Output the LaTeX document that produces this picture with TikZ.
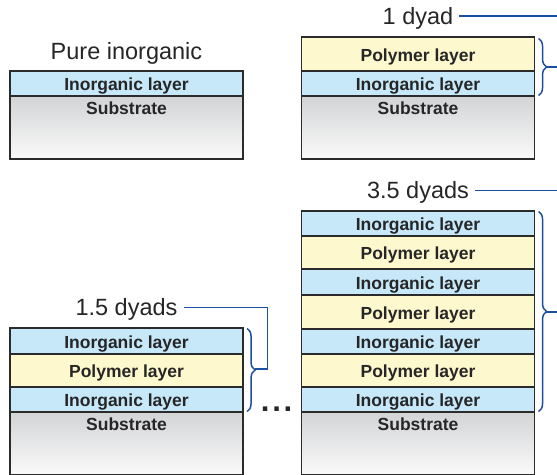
\documentclass[tikz,border=0pt]{standalone}
\usepackage{fontspec}
\setmainfont{Liberation Sans}
\usetikzlibrary{decorations.pathreplacing}
\definecolor{inorg}{HTML}{C6E8F8}
\definecolor{poly}{HTML}{FDF8CD}
\definecolor{edge}{HTML}{2B2B2B}
\definecolor{subtop}{HTML}{D3D4D6}
\definecolor{subbot}{HTML}{FAFAFA}
\definecolor{brblue}{HTML}{1C4FA0}
\definecolor{txt}{HTML}{262626}
\tikzset{
  layer/.style={draw=edge, line width=1.1pt, minimum width=233pt, inner sep=0pt,
    text=txt, font=\fontsize{17.5}{20}\selectfont\bfseries, text height=14.3pt, text depth=0pt},
  inolayer/.style={layer, fill=inorg, minimum height=#1},
  polylayer/.style={layer, fill=poly, minimum height=#1},
  sublayer/.style={draw=edge, line width=1.1pt, minimum width=233pt, minimum height=63pt,
    inner sep=0pt, top color=subtop, bottom color=subbot},
  subtext/.style={anchor=base, inner sep=0pt, text=txt, font=\fontsize{17.5}{20}\selectfont\bfseries},
  biglabel/.style={inner sep=0pt, text=txt, font=\fontsize{23.5}{26}\selectfont,
    text height=16.8pt, text depth=0pt},
  bracelink/.style={draw=brblue, line width=1.5pt},
  bracebrace/.style={draw=brblue, line width=1.5pt, decorate,
    decoration={brace, amplitude=8pt}},
}
\begin{document}
\begin{tikzpicture}[x=1pt, y=-1pt]
\useasboundingbox (0,0) rectangle (557,474);
\clip (0,0) rectangle (557,474);
\fill[white] (0,0) rectangle (557,474);

% ---------- Pure inorganic ----------
\node[biglabel] (lpure) at (126.5,50.8) {Pure inorganic};
\node[sublayer] (s1) at (126.5,127.5) {};
\node[subtext] (s1t) at ([yshift=-19pt]s1.north) {Substrate};
\node[inolayer=25pt] (a1) at (126.5,83.5) {Inorganic layer};

% ---------- 1 dyad ----------
\node[biglabel] (l1) at (418,15.8) {1 dyad};
\node[sublayer] (s2) at (418,127.5) {};
\node[subtext] (s2t) at ([yshift=-19pt]s2.north) {Substrate};
\node[inolayer=25pt] (b1) at (418,83.5) {Inorganic layer};
\node[polylayer=34pt] (b2) at (418,54) {Polymer layer};
\draw[bracebrace] ([xshift=3.5pt,yshift=-2pt]b2.north east) -- ([xshift=3.5pt,yshift=1pt]b1.south east);
\coordinate (t1) at (546,67);
\coordinate (e1a) at (557,67);
\coordinate (e1b) at (557,15.8);
\draw[bracelink] (t1) -- (e1a);
\draw[bracelink] ([xshift=6pt]l1.east) -- (e1b);

% ---------- 1.5 dyads ----------
\node[biglabel] (l2) at (126.5,307.3) {1.5 dyads};
\node[sublayer] (s3) at (126.5,443.5) {};
\node[subtext] (s3t) at ([yshift=-19pt]s3.north) {Substrate};
\node[inolayer=25pt] (c1) at (126.5,399.5) {Inorganic layer};
\node[polylayer=33pt] (c2) at (126.5,370.5) {Polymer layer};
\node[inolayer=26pt] (c3) at (126.5,341) {Inorganic layer};
\draw[bracebrace] ([xshift=3.5pt,yshift=-1pt]c3.north east) -- ([xshift=3.5pt,yshift=1pt]c1.south east);
\coordinate (t2) at (254.5,369);
\coordinate (k2a) at (267.3,369);
\coordinate (k2b) at (267.3,307.3);
\draw[bracelink] (t2) -- (k2a) -- (k2b) -- ([xshift=6pt]l2.east);

% dots
\node[anchor=base, inner sep=0pt, text=txt, font=\fontsize{31}{31}\bfseries] (dots) at (276.6,411.5) {.\kern2.7pt.\kern2.7pt.};

% ---------- 3.5 dyads ----------
\node[biglabel] (l3) at (418,190.3) {3.5 dyads};
\node[sublayer] (s4) at (418,443.5) {};
\node[subtext] (s4t) at ([yshift=-19pt]s4.north) {Substrate};
\node[inolayer=25pt] (d1) at (418,399.5) {Inorganic layer};
\node[polylayer=33pt] (d2) at (418,370.5) {Polymer layer};
\node[inolayer=25pt] (d3) at (418,341.5) {Inorganic layer};
\node[polylayer=34pt] (d4) at (418,312) {Polymer layer};
\node[inolayer=26pt] (d5) at (418,282) {Inorganic layer};
\node[polylayer=33pt] (d6) at (418,252.5) {Polymer layer};
\node[inolayer=25pt] (d7) at (418,223.5) {Inorganic layer};
\draw[bracebrace] ([xshift=3.5pt,yshift=-1pt]d7.north east) -- ([xshift=3.5pt,yshift=1pt]d1.south east);
\coordinate (t3) at (546,312);
\coordinate (e3a) at (557,312);
\coordinate (e3b) at (557,190.3);
\draw[bracelink] (t3) -- (e3a);
\draw[bracelink] ([xshift=6pt]l3.east) -- (e3b);
\end{tikzpicture}
\end{document}
